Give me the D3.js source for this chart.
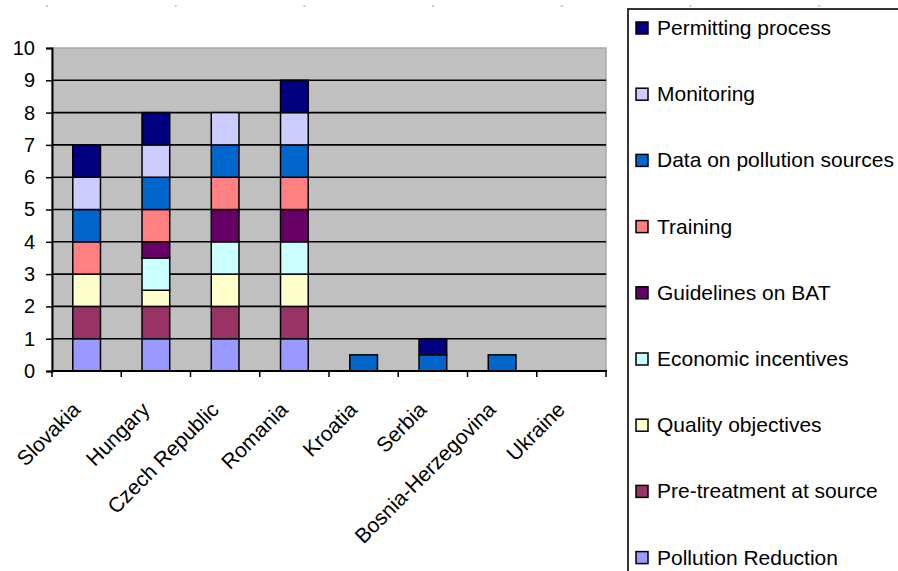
<!DOCTYPE html>
<html>
<head>
<meta charset="utf-8">
<script src="https://cdn.jsdelivr.net/npm/d3@7"></script>
<style>
  body { margin: 0; background: #fff; }
  svg { display: block; font-family: "Liberation Sans", Arial, sans-serif; }
</style>
</head>
<body>
<svg></svg>
<script>
// categories and series (bottom of stack first)
const countries = ["Slovakia", "Hungary", "Czech Republic", "Romania", "Kroatia", "Serbia", "Bosnia-Herzegovina", "Ukraine"];
const seriesNames = ["Pollution Reduction", "Pre-treatment at source", "Quality objectives", "Economic incentives",
                     "Guidelines on BAT", "Training", "Data on pollution sources", "Monitoring", "Permitting process"];
const seriesColors = ["#9999FF", "#993366", "#FFFFCC", "#CCFFFF", "#660066", "#FF8080", "#0066CC", "#CCCCFF", "#000080"];

const pollutionReduction = [1, 1,   1, 1, 0,   0,   0,   0];
const pretreatment       = [1, 1,   1, 1, 0,   0,   0,   0];
const qualityObjectives  = [1, 0.5, 1, 1, 0,   0,   0,   0];
const economicIncentives = [0, 1,   1, 1, 0,   0,   0,   0];
const guidelinesBAT      = [0, 0.5, 1, 1, 0,   0,   0,   0];
const training           = [1, 1,   1, 1, 0,   0,   0,   0];
const dataSources        = [1, 1,   1, 1, 0.5, 0.5, 0.5, 0];
const monitoring         = [1, 1,   1, 1, 0,   0,   0,   0];
const permitting         = [1, 1,   0, 1, 0,   0.5, 0,   0];

const yTicks = [0, 1, 2, 3, 4, 5, 6, 7, 8, 9, 10];

const seriesValues = [pollutionReduction, pretreatment, qualityObjectives, economicIncentives,
                      guidelinesBAT, training, dataSources, monitoring, permitting];

const w = 898, h = 571;
const plot = {left: 52, right: 606, top: 48, bottom: 371};

const table = countries.map((c, i) => {
  const row = {country: c};
  seriesNames.forEach((s, j) => row[s] = seriesValues[j][i]);
  return row;
});

const svg = d3.select("svg").attr("width", w).attr("height", h);

// faint dots along the top edge
svg.selectAll("rect.dot")
   .data(d3.range(7))
   .enter().append("rect")
   .attr("class", "dot")
   .attr("x", i => 46 + i * 128.7)
   .attr("y", 5)
   .attr("width", 2).attr("height", 2)
   .attr("fill", "#c8c8c8");

const xScale = d3.scaleBand()
                 .domain(countries)
                 .range([plot.left, plot.right])
                 .paddingInner(0.6)
                 .paddingOuter(0.3);

const yScale = d3.scaleLinear()
                 .domain([0, 10])
                 .range([plot.bottom, plot.top]);

// plot area
svg.append("rect")
   .attr("x", plot.left).attr("y", plot.top)
   .attr("width", plot.right - plot.left).attr("height", plot.bottom - plot.top)
   .attr("fill", "#C0C0C0")
   .attr("stroke", "#a8a8a8")
   .attr("stroke-width", 1.5);

// gridlines
svg.append("g")
   .selectAll("line")
   .data(yTicks.filter(t => t > 0 && t < 10))
   .enter().append("line")
   .attr("x1", plot.left).attr("x2", plot.right)
   .attr("y1", d => yScale(d)).attr("y2", d => yScale(d))
   .attr("stroke", "#000")
   .attr("stroke-width", 1.6);

// stacked bars
const stacked = d3.stack().keys(seriesNames)(table);

svg.append("g")
   .selectAll("g")
   .data(stacked)
   .enter().append("g")
   .attr("fill", (d, i) => seriesColors[i])
   .selectAll("rect")
   .data(d => d.filter(p => p[1] - p[0] > 0))
   .enter().append("rect")
   .attr("x", d => xScale(d.data.country))
   .attr("y", d => yScale(d[1]))
   .attr("width", xScale.bandwidth())
   .attr("height", d => yScale(d[0]) - yScale(d[1]))
   .attr("stroke", "#000")
   .attr("stroke-width", 1.5);

// y axis
const yAxis = d3.axisLeft(yScale).tickValues(yTicks).tickSize(6).tickPadding(11);
const gy = svg.append("g")
   .attr("transform", "translate(" + plot.left + ",0)")
   .call(yAxis);
gy.select(".domain").attr("stroke", "#000").attr("stroke-width", 2);
gy.selectAll(".tick line").attr("stroke", "#000").attr("stroke-width", 1.5);
gy.selectAll("text").attr("font-size", 20).attr("fill", "#000")
  .attr("font-family", "'Liberation Sans', Arial, sans-serif");

// x axis with ticks at category boundaries
const gx = svg.append("g");
gx.append("line")
  .attr("x1", plot.left).attr("x2", plot.right + 1)
  .attr("y1", plot.bottom).attr("y2", plot.bottom)
  .attr("stroke", "#000").attr("stroke-width", 2);
gx.selectAll("line.tk")
  .data(d3.range(countries.length + 1))
  .enter().append("line")
  .attr("class", "tk")
  .attr("x1", i => plot.left + i * xScale.step())
  .attr("x2", i => plot.left + i * xScale.step())
  .attr("y1", plot.bottom).attr("y2", plot.bottom + 6)
  .attr("stroke", "#000").attr("stroke-width", 1.5);
gx.selectAll("text")
  .data(countries)
  .enter().append("text")
  .attr("transform", d => "translate(" + (xScale(d) + xScale.bandwidth() / 2 - 5) + "," + (plot.bottom + 40) + ") rotate(-45)")
  .attr("text-anchor", "end")
  .attr("font-size", 21)
  .attr("fill", "#000")
  .text(d => d);

// legend
const legend = svg.append("g");
legend.append("rect")
  .attr("x", 628).attr("y", 9)
  .attr("width", 290).attr("height", 580)
  .attr("fill", "#fff")
  .attr("stroke", "#333")
  .attr("stroke-width", 2);

const legendItems = seriesNames.map((s, i) => ({name: s, color: seriesColors[i]})).reverse();
const li = legend.selectAll("g.item")
  .data(legendItems)
  .enter().append("g")
  .attr("class", "item")
  .attr("transform", (d, i) => "translate(636," + (28 + i * 66.2) + ")");
li.append("rect")
  .attr("x", 0).attr("y", -6)
  .attr("width", 12).attr("height", 12)
  .attr("fill", d => d.color)
  .attr("stroke", "#000")
  .attr("stroke-width", 1.5);
li.append("text")
  .attr("x", 21).attr("y", 7)
  .attr("font-size", 21)
  .attr("fill", "#000")
  .text(d => d.name);
</script>
</body>
</html>
